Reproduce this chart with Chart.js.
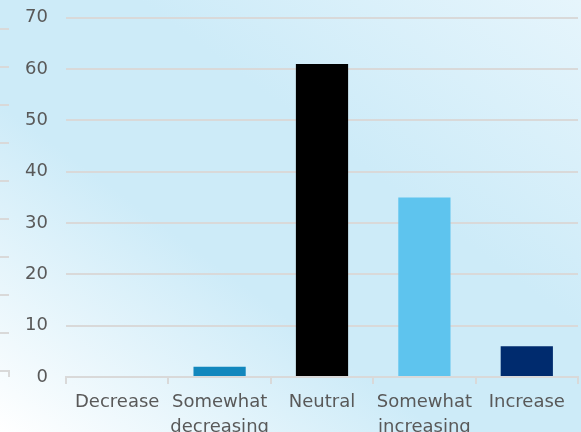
<!DOCTYPE html>
<html>
<head>
<meta charset="utf-8">
<script src="https://cdn.jsdelivr.net/npm/chart.js@4"></script>
<style>
  html, body { margin: 0; padding: 0; overflow: hidden; }
  body {
    width: 581px; height: 432px;
    background: linear-gradient(to top right, #ffffff 0%, #cdebf8 38%, #cdebf8 62%, #e6f5fc 100%);
  }
  #wrap { width: 581px; height: 460px; position: relative; top: -11px; }
</style>
</head>
<body>
<div id="wrap"><canvas id="grafico"></canvas></div>
<script>
  // ---------- dados ----------
  const categorias = ["Decrease", ["Somewhat", "decreasing"], "Neutral", ["Somewhat", "increasing"], "Increase"];
  const valores = [0, 2, 61, 35, 6];
  const cores = ["#1287bd", "#1287bd", "#000000", "#5ec4ee", "#002b6e"];
  const yMin = 0, yMax = 70, yPasso = 10;

  const cinza = "#d9d9d9";
  const texto = "#595959";

  // pedaço de eixo de outro gráfico que aparece na borda esquerda
  // (canvas deslocado 11px para cima, por isso o +11)
  const bordaEsquerda = {
    id: "bordaEsquerda",
    beforeDraw(chart) {
      const ctx = chart.ctx;
      ctx.save();
      ctx.strokeStyle = cinza;
      ctx.lineWidth = 2;
      ctx.beginPath();
      for (let y = 29; y <= 371; y += 38) {
        ctx.moveTo(0, y + 11);
        ctx.lineTo(9, y + 11);
      }
      ctx.moveTo(9, 381);
      ctx.lineTo(9, 388);
      ctx.stroke();
      ctx.restore();
    }
  };

  const ctx1 = document.getElementById("grafico").getContext("2d");
  new Chart(ctx1, {
    type: "bar",
    data: {
      labels: categorias,
      datasets: [{
        data: valores,
        backgroundColor: cores,
        barPercentage: 0.51,
        categoryPercentage: 1
      }]
    },
    options: {
      responsive: true,
      maintainAspectRatio: false,
      animation: false,
      layout: { padding: { top: 0, right: 3, left: 0, bottom: 0 } },
      plugins: {
        legend: { display: false },
        tooltip: { enabled: false }
      },
      scales: {
        y: {
          min: yMin,
          max: yMax,
          afterFit(scale) { scale.width = 66; },
          ticks: {
            stepSize: yPasso,
            padding: 18,
            color: texto,
            font: { family: "DejaVu Sans", size: 18 }
          },
          grid: { color: cinza, lineWidth: 2, drawTicks: false },
          border: { display: false }
        },
        x: {
          afterFit(scale) { scale.height = 72; },
          ticks: {
            color: texto,
            padding: 6,
            maxRotation: 0,
            autoSkip: false,
            font: { family: "DejaVu Sans", size: 18, lineHeight: 1.4 }
          },
          grid: { color: cinza, lineWidth: 2, drawOnChartArea: false, tickLength: 7, offset: true },
          border: { color: cinza, width: 2 }
        }
      }
    },
    plugins: [bordaEsquerda]
  });
</script>
</body>
</html>
